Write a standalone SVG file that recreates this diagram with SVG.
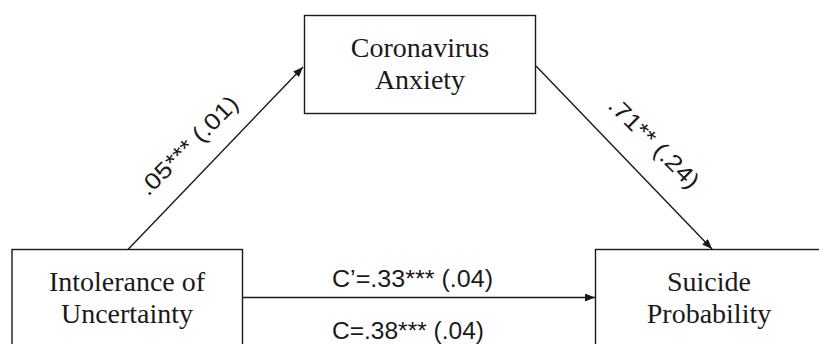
<svg xmlns="http://www.w3.org/2000/svg" width="819" height="344" viewBox="0 0 819 344">
<style>
.box{fill:#fff;stroke:#1a1a1a;stroke-width:1.4}
.nt{font-family:'Liberation Serif','DejaVu Serif','Times New Roman',serif;font-size:28px;fill:#1a1a1a;text-anchor:middle}
.edge{stroke:#1a1a1a;stroke-width:1.4;fill:none}
.lbl{font-family:'Liberation Sans',Arial,sans-serif;font-size:23px;fill:#1a1a1a}
</style>
<defs>
<marker id="arr" markerUnits="userSpaceOnUse" markerWidth="11" markerHeight="9" refX="10" refY="4" orient="auto">
<path d="M0,0 L10,4 L0,8 z" fill="#1a1a1a"/>
</marker>
</defs>
<rect width="819" height="344" fill="#fff"/>
<g id="connectors">
<line class="edge" x1="128" y1="249.5" x2="303" y2="67" marker-end="url(#arr)"/>
<line class="edge" x1="536" y1="66" x2="712" y2="249" marker-end="url(#arr)"/>
<line class="edge" x1="242.5" y1="297.5" x2="595" y2="297.5" marker-end="url(#arr)"/>
<text class="lbl" text-anchor="middle" textLength="130" lengthAdjust="spacingAndGlyphs" transform="translate(194,151) rotate(-45)">.05*** (.01)</text>
<text class="lbl" text-anchor="middle" textLength="118" lengthAdjust="spacingAndGlyphs" transform="translate(648.4,148.4) rotate(45)">.71** (.24)</text>
<text class="lbl" x="332" y="286.7" textLength="161" lengthAdjust="spacingAndGlyphs">C’=.33*** (.04)</text>
<text class="lbl" x="332" y="339.3" textLength="152" lengthAdjust="spacingAndGlyphs">C=.38*** (.04)</text>
</g>
<g id="coronavirus-anxiety">
<rect class="box" x="304.5" y="15.5" width="231" height="98"/>
<text class="nt" x="420" y="56.7">Coronavirus</text>
<text class="nt" x="420" y="89.3">Anxiety</text>
</g>
<g id="intolerance-of-uncertainty">
<rect class="box" x="12" y="249.5" width="230.5" height="110"/>
<text class="nt" x="127" y="290.7">Intolerance of</text>
<text class="nt" x="127" y="322.7">Uncertainty</text>
</g>
<g id="suicide-probability">
<rect class="box" x="595.5" y="249.5" width="240" height="110"/>
<text class="nt" x="709" y="290.7">Suicide</text>
<text class="nt" x="709" y="322.7">Probability</text>
</g>
</svg>
